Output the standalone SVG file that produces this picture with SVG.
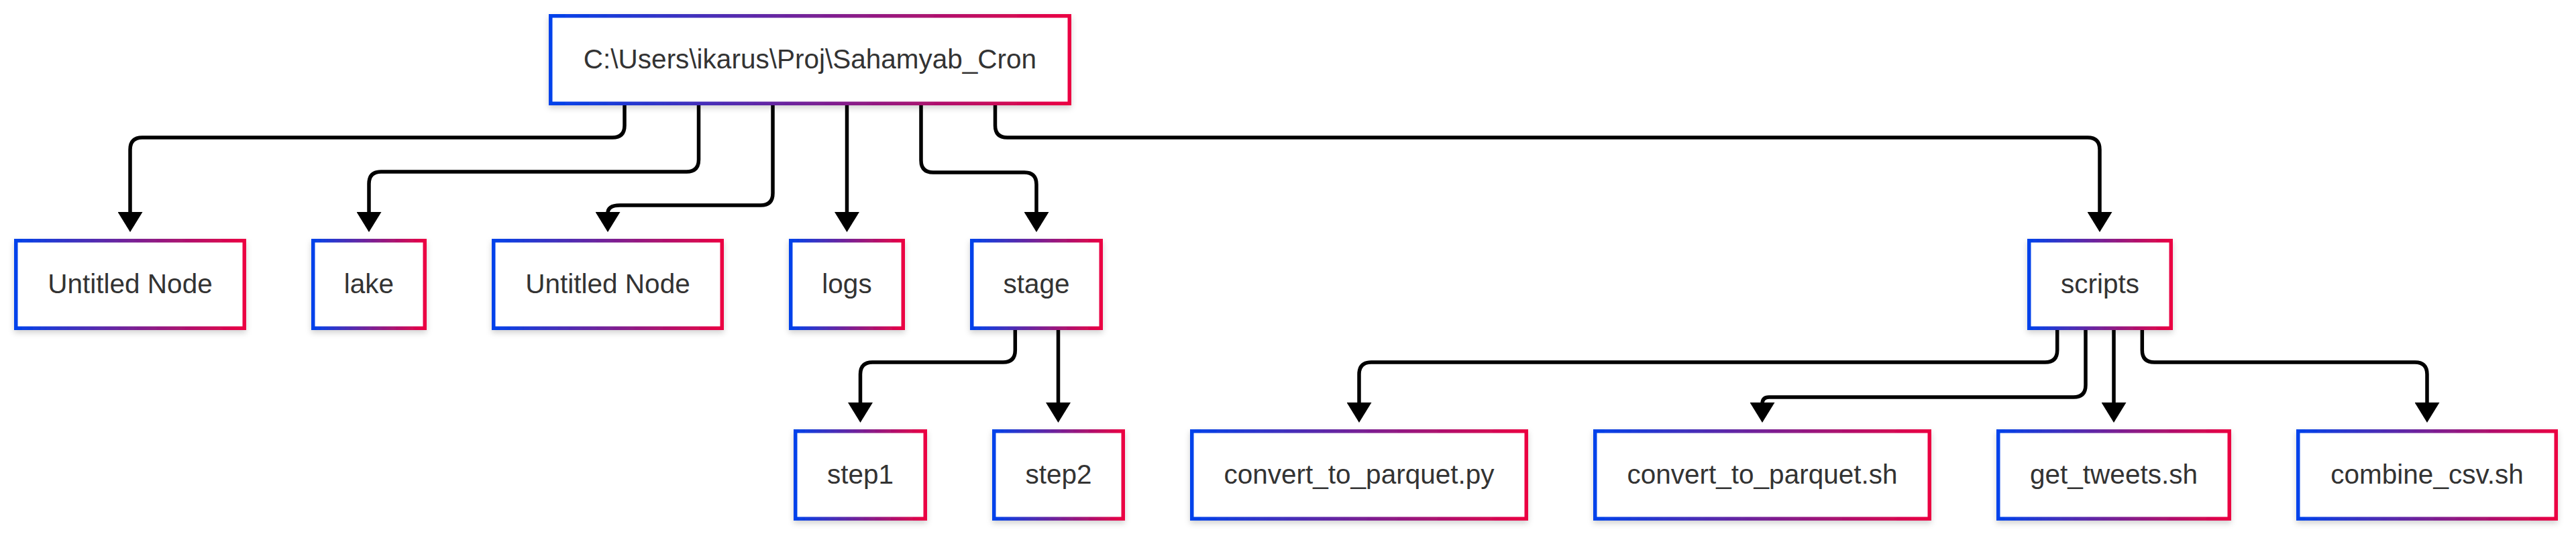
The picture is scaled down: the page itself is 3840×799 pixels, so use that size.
<svg xmlns="http://www.w3.org/2000/svg" width="3840" height="799" viewBox="0 0 3840 799">
  <defs>
    <linearGradient id="g" x1="0" y1="0" x2="1" y2="0">
      <stop offset="0" stop-color="#0042eb"/>
      <stop offset="1" stop-color="#eb0042"/>
    </linearGradient>
    <filter id="sh" x="-10%" y="-20%" width="120%" height="150%">
      <feDropShadow dx="0" dy="4" stdDeviation="4" flood-color="#000" flood-opacity="0.18"/>
    </filter>
    <marker id="arr" markerUnits="userSpaceOnUse" markerWidth="30" markerHeight="37" viewBox="0 0 30 37" refX="2" refY="18.5" orient="auto">
      <path d="M0,0 L30,18.5 L0,37 z" fill="#000"/>
    </marker>
  </defs>
  <style>
    .box { fill: #fff; stroke: url(#g); stroke-width: 5.5; filter: url(#sh); }
    .lbl { font-family: "Liberation Sans", Arial, sans-serif; font-size: 40.5px; fill: #333; text-anchor: middle; }
    .edge { fill: none; stroke: #000; stroke-width: 5.5; marker-end: url(#arr); }
  </style>
  <rect width="3840" height="799" fill="#fff"/>

  <g id="connectors">
    <path class="edge" d="M931,155 V187 Q931,205 913,205 H212 Q194,205 194,223 V318"/>
    <path class="edge" d="M1041.5,155 V238 Q1041.5,256 1023.5,256 H568 Q550,256 550,274 V318"/>
    <path class="edge" d="M1152,155 V288 Q1152,306 1134,306 H924 Q906,306 906,318"/>
    <path class="edge" d="M1262.5,155 V318"/>
    <path class="edge" d="M1373,155 V239 Q1373,257 1391,257 H1527 Q1545,257 1545,275 V318"/>
    <path class="edge" d="M1483.5,155 V187 Q1483.5,205 1501.5,205 H3112 Q3130,205 3130,223 V318"/>
    <path class="edge" d="M1513.3,490 V522 Q1513.3,540 1495.3,540 H1300.5 Q1282.5,540 1282.5,558 V602"/>
    <path class="edge" d="M1577.5,490 V602"/>
    <path class="edge" d="M3066.7,490 V522 Q3066.7,540 3048.7,540 H2044 Q2026,540 2026,558 V602"/>
    <path class="edge" d="M3109,490 V574 Q3109,592 3091,592 H2637 Q2627,592 2627,602"/>
    <path class="edge" d="M3151,490 V602"/>
    <path class="edge" d="M3193.3,490 V522 Q3193.3,540 3211.3,540 H3600 Q3618,540 3618,558 V602"/>
  </g>

  <g id="root">
    <rect class="box" x="820.75" y="23.75" width="773.5" height="130.5"/>
    <text class="lbl" x="1207.5" y="102">C:\Users\ikarus\Proj\Sahamyab_Cron</text>
  </g>

  <g id="untitled1">
    <rect class="box" x="23.75" y="358.75" width="340.5" height="130.5"/>
    <text class="lbl" x="194" y="437">Untitled Node</text>
  </g>
  <g id="lake">
    <rect class="box" x="466.75" y="358.75" width="166.5" height="130.5"/>
    <text class="lbl" x="550" y="437">lake</text>
  </g>
  <g id="untitled2">
    <rect class="box" x="735.75" y="358.75" width="340.5" height="130.5"/>
    <text class="lbl" x="906" y="437">Untitled Node</text>
  </g>
  <g id="logs">
    <rect class="box" x="1178.75" y="358.75" width="167.5" height="130.5"/>
    <text class="lbl" x="1262.5" y="437">logs</text>
  </g>
  <g id="stage">
    <rect class="box" x="1448.75" y="358.75" width="192.5" height="130.5"/>
    <text class="lbl" x="1545" y="437">stage</text>
  </g>
  <g id="scripts">
    <rect class="box" x="3024.75" y="358.75" width="211.5" height="130.5"/>
    <text class="lbl" x="3130.5" y="437">scripts</text>
  </g>

  <g id="step1">
    <rect class="box" x="1185.75" y="642.75" width="193.5" height="130.5"/>
    <text class="lbl" x="1282.5" y="721">step1</text>
  </g>
  <g id="step2">
    <rect class="box" x="1481.75" y="642.75" width="192.5" height="130.5"/>
    <text class="lbl" x="1578" y="721">step2</text>
  </g>
  <g id="convert_py">
    <rect class="box" x="1776.75" y="642.75" width="498.5" height="130.5"/>
    <text class="lbl" x="2026" y="721">convert_to_parquet.py</text>
  </g>
  <g id="convert_sh">
    <rect class="box" x="2377.75" y="642.75" width="498.5" height="130.5"/>
    <text class="lbl" x="2627" y="721">convert_to_parquet.sh</text>
  </g>
  <g id="get_tweets">
    <rect class="box" x="2978.75" y="642.75" width="344.5" height="130.5"/>
    <text class="lbl" x="3151" y="721">get_tweets.sh</text>
  </g>
  <g id="combine_csv">
    <rect class="box" x="3425.75" y="642.75" width="384.5" height="130.5"/>
    <text class="lbl" x="3618" y="721">combine_csv.sh</text>
  </g>
</svg>
